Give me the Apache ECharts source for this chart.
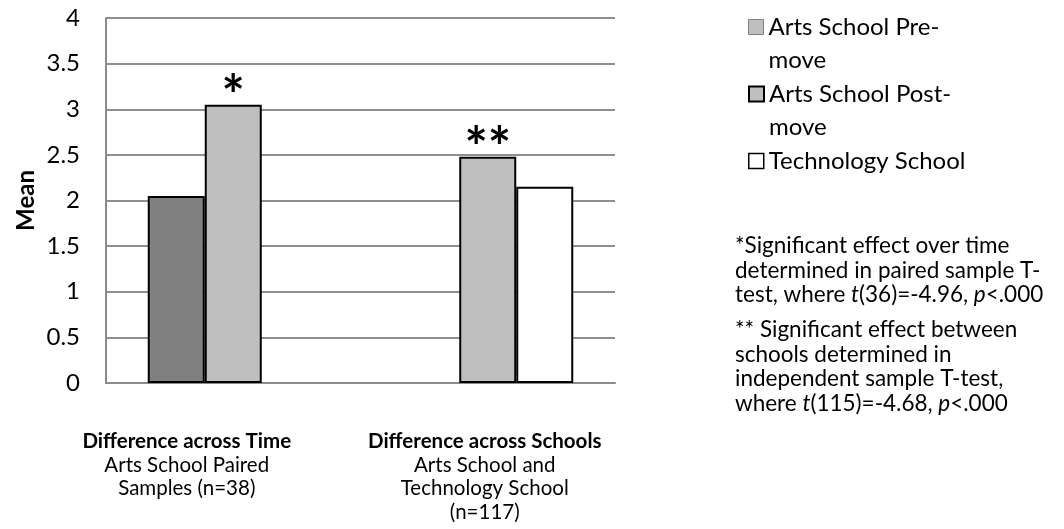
<!DOCTYPE html>
<html>
<head>
<meta charset="utf-8">
<script src="https://cdn.jsdelivr.net/npm/echarts@6/dist/echarts.min.js"></script>
<style>
  html, body { margin: 0; padding: 0; background: #fff; }
  #chart { width: 1064px; height: 529px; }
</style>
</head>
<body>
<div id="chart"></div>
<script>
// category labels (bold title + wrapped sub lines)
const categories = ['Difference across Time', 'Difference across Schools']
const subLabels = [
  ['Arts School Paired', 'Samples (n=38)'],
  ['Arts School and', 'Technology School', '(n=117)']
]

// series values (null = no bar in that group)
const seriesNames = ['Arts School Pre-move', 'Arts School Post-move', 'Technology School']
const legendLabels = [['Arts School Pre-', 'move'], ['Arts School Post-', 'move'], ['Technology School']]
const preMove = [2.05, null]
const postMove = [3.05, 2.48]
const techSchool = [null, 2.15]
const significance = ['*', '**']

// footnotes
const note1 = ['*Significant effect over time', 'determined in paired sample T-', 'test, where {i|t}(36)=-4.96, {i|p}<.000']
const note2 = ['** Significant effect between', 'schools determined in', 'independent sample T-test,', 'where {i|t}(115)=-4.68, {i|p}<.000']

const FONT = 'Lato'
const LEG_LH = 33.5
const chart = echarts.init(document.getElementById('chart'))

const legendText = { fontFamily: FONT, fontSize: 24, lineHeight: LEG_LH, color: '#000' }

// one legend per entry; a blank first line keeps the box beside the first line of wrapped names
function legendFor(i, top, itemStyle) {
  return {
    orient: 'vertical',
    left: 748,
    top: top,
    padding: 0,
    itemWidth: 15,
    itemHeight: 15,
    icon: 'rect',
    selectedMode: false,
    itemStyle: itemStyle,
    formatter: name => {
      const lines = legendLabels[seriesNames.indexOf(name)]
      if (lines.length === 1) return '{r|' + lines[0] + '}'
      return '{r| }\n{r|' + lines[0] + '}\n{r|' + lines[1] + '}'
    },
    textStyle: Object.assign({}, legendText, { rich: { r: legendText } }),
    data: [seriesNames[i]]
  }
}

const axisFont = { fontFamily: FONT, fontSize: 20.5, lineHeight: 23.5, color: '#000' }
const labelRich = {
  pb: Object.assign({}, axisFont, { fontWeight: 'bold', padding: [0, 93, 0, 0] }),
  p: Object.assign({}, axisFont, { padding: [0, 93, 0, 0] }),
  qb: Object.assign({}, axisFont, { fontWeight: 'bold', padding: [0, 6, 0, 0] }),
  q: Object.assign({}, axisFont, { padding: [0, 6, 0, 0] })
}

const noteStyle = {
  fontFamily: FONT, fontSize: 22.5, lineHeight: 24.5, fontWeight: 'normal', color: '#000',
  rich: { i: { fontFamily: FONT, fontSize: 22.5, lineHeight: 24.5, fontStyle: 'italic', color: '#000' } }
}

const option = {
  backgroundColor: '#fff',
  animation: false,
  grid: { left: 106, right: 449, top: 18, bottom: 146 },
  title: [
    { text: note1.join('\n'), left: 735, top: 233.5, padding: 0, textStyle: noteStyle },
    { text: note2.join('\n'), left: 735, top: 317.5, padding: 0, textStyle: noteStyle }
  ],
  legend: [
    legendFor(0, -23.25, { color: '#bfbfbf', borderColor: '#7f7f7f', borderWidth: 1 }),
    legendFor(1, 43.75, { color: '#bfbfbf', borderColor: '#000', borderWidth: 2 }),
    legendFor(2, 144.25, { color: '#fff', borderColor: '#000', borderWidth: 1.5 })
  ],
  xAxis: {
    type: 'category',
    data: categories,
    axisLine: { show: true, lineStyle: { color: '#8c8c8c', width: 2 } },
    axisTick: { show: false },
    axisLabel: {
      interval: 0,
      margin: 47,
      formatter: (value, index) => {
        const k = index === 0 ? 'p' : 'q'
        return ['{' + k + 'b|' + value + '}']
          .concat(subLabels[index].map(s => '{' + k + '|' + s + '}'))
          .join('\n')
      },
      rich: labelRich
    }
  },
  yAxis: {
    type: 'value',
    min: 0,
    max: 4,
    interval: 0.5,
    name: 'Mean',
    nameLocation: 'middle',
    nameGap: 68,
    nameTextStyle: { fontFamily: FONT, fontSize: 24, fontWeight: 'bold', color: '#000' },
    axisLine: { show: true, lineStyle: { color: '#8c8c8c', width: 2 } },
    axisTick: { show: false },
    axisLabel: { fontFamily: FONT, fontSize: 24, color: '#000', margin: 26 },
    splitLine: { show: true, lineStyle: { color: '#8f8f8f', width: 2 } }
  },
  series: [
    {
      name: seriesNames[0], type: 'bar', data: preMove, barWidth: 57, barGap: '0%',
      itemStyle: { color: '#808080', borderColor: '#000', borderWidth: 2 }
    },
    {
      name: seriesNames[1], type: 'bar', barWidth: 57, barGap: '0%',
      data: postMove.map((v, i) => ({ value: v, label: { show: true, formatter: significance[i] } })),
      label: {
        position: 'top', distance: 0, offset: [0, 20],
        fontFamily: FONT, fontSize: 55, fontWeight: 'bold', color: '#000'
      },
      itemStyle: { color: '#bfbfbf', borderColor: '#000', borderWidth: 2 }
    },
    {
      name: seriesNames[2], type: 'bar', data: techSchool, barWidth: 57, barGap: '0%',
      itemStyle: { color: '#fff', borderColor: '#000', borderWidth: 2 }
    }
  ]
}

chart.setOption(option)
window.addEventListener('resize', () => chart.resize())
</script>
</body>
</html>
